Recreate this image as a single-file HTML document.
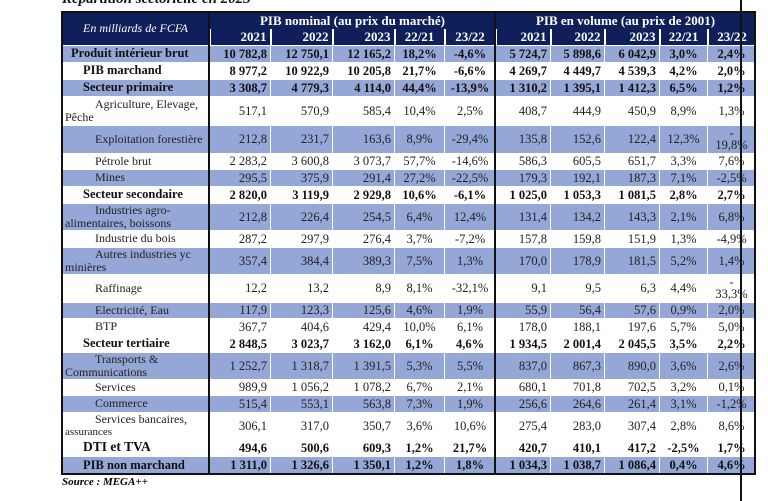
<!DOCTYPE html>
<html><head><meta charset="utf-8">
<style>
body{margin:0;width:768px;height:501px;background:#fff;position:relative;overflow:hidden;font-family:"Liberation Serif",serif;}
.title{position:absolute;left:62px;top:-9px;font-size:15px;font-style:italic;font-weight:bold;color:#111;}
table{position:absolute;left:62px;top:12px;width:693px;border-collapse:collapse;table-layout:fixed;font-size:12.5px;color:#222;}
td{padding:0 3px;border:1px solid #fff;text-align:right;white-space:nowrap;line-height:12px;overflow:hidden;}
td.l{text-align:left;white-space:normal;line-height:12.5px;font-size:12px;}
td.p{text-align:center;}
tr.b td{background:#94a7d7;}
tr.h td{background:#0f1f5a;color:#fff;font-weight:bold;border:none;font-size:13px;}
tr.h2 td{border-left:2px solid #fff;}
.bo td{font-weight:bold;color:#111;}
.bo td.l{font-size:12.5px;}
.i1{padding-left:8px;}
.i2{padding-left:20px;}
.w{text-indent:30px;padding-left:2px;}
.nw{white-space:nowrap !important;}
.ln{position:absolute;background:#111;}
.src{position:absolute;left:62px;top:476px;font-size:11px;font-style:italic;font-weight:bold;}
</style></head><body>
<div class="title">Répartition sectorielle en 2023</div>
<table>
<colgroup><col style="width:147px"><col style="width:61px"><col style="width:62px"><col style="width:62px"><col style="width:50px"><col style="width:51px"><col style="width:55px"><col style="width:54px"><col style="width:55px"><col style="width:48px"><col style="width:48px"></colgroup>
<tr class="h" style="height:17px"><td rowspan="2" style="text-align:center;font-style:italic;font-weight:normal;font-size:12px">En milliards de FCFA</td><td colspan="5" style="text-align:center">PIB nominal (au prix du marché)</td><td colspan="5" style="text-align:center">PIB en volume (au prix de 2001)</td></tr>
<tr class="h h2" style="height:16px"><td>2021</td><td>2022</td><td>2023</td><td class="p">22/21</td><td class="p">23/22</td><td>2021</td><td>2022</td><td>2023</td><td class="p">22/21</td><td class="p">23/22</td></tr>
<tr class="b bo" style="height:17px"><td class="l i1">Produit intérieur brut</td><td>10 782,8</td><td>12 750,1</td><td>12 165,2</td><td class="p">18,2%</td><td class="p">-4,6%</td><td>5 724,7</td><td>5 898,6</td><td>6 042,9</td><td class="p">3,0%</td><td class="p">2,4%</td></tr>
<tr class="bo" style="height:17px"><td class="l i2">PIB marchand</td><td>8 977,2</td><td>10 922,9</td><td>10 205,8</td><td class="p">21,7%</td><td class="p">-6,6%</td><td>4 269,7</td><td>4 449,7</td><td>4 539,3</td><td class="p">4,2%</td><td class="p">2,0%</td></tr>
<tr class="b bo" style="height:17px"><td class="l i2">Secteur primaire</td><td>3 308,7</td><td>4 779,3</td><td>4 114,0</td><td class="p">44,4%</td><td class="p">-13,9%</td><td>1 310,2</td><td>1 395,1</td><td>1 412,3</td><td class="p">6,5%</td><td class="p">1,2%</td></tr>
<tr style="height:29px"><td class="l w">Agriculture, Elevage, Pêche</td><td>517,1</td><td>570,9</td><td>585,4</td><td class="p">10,4%</td><td class="p">2,5%</td><td>408,7</td><td>444,9</td><td>450,9</td><td class="p">8,9%</td><td class="p">1,3%</td></tr>
<tr class="b" style="height:28px"><td class="l w nw">Exploitation forestière</td><td>212,8</td><td>231,7</td><td>163,6</td><td class="p">8,9%</td><td class="p">-29,4%</td><td>135,8</td><td>152,6</td><td>122,4</td><td class="p">12,3%</td><td class="p" style="white-space:normal">-<br>19,8%</td></tr>
<tr style="height:16px"><td class="l w">Pétrole brut</td><td>2 283,2</td><td>3 600,8</td><td>3 073,7</td><td class="p">57,7%</td><td class="p">-14,6%</td><td>586,3</td><td>605,5</td><td>651,7</td><td class="p">3,3%</td><td class="p">7,6%</td></tr>
<tr class="b" style="height:17px"><td class="l w">Mines</td><td>295,5</td><td>375,9</td><td>291,4</td><td class="p">27,2%</td><td class="p">-22,5%</td><td>179,3</td><td>192,1</td><td>187,3</td><td class="p">7,1%</td><td class="p">-2,5%</td></tr>
<tr class="bo" style="height:17px"><td class="l i2">Secteur secondaire</td><td>2 820,0</td><td>3 119,9</td><td>2 929,8</td><td class="p">10,6%</td><td class="p">-6,1%</td><td>1 025,0</td><td>1 053,3</td><td>1 081,5</td><td class="p">2,8%</td><td class="p">2,7%</td></tr>
<tr class="b" style="height:27px"><td class="l w">Industries agro-alimentaires, boissons</td><td>212,8</td><td>226,4</td><td>254,5</td><td class="p">6,4%</td><td class="p">12,4%</td><td>131,4</td><td>134,2</td><td>143,3</td><td class="p">2,1%</td><td class="p">6,8%</td></tr>
<tr style="height:17px"><td class="l w">Industrie du bois</td><td>287,2</td><td>297,9</td><td>276,4</td><td class="p">3,7%</td><td class="p">-7,2%</td><td>157,8</td><td>159,8</td><td>151,9</td><td class="p">1,3%</td><td class="p">-4,9%</td></tr>
<tr class="b" style="height:27px"><td class="l w">Autres industries yc minières</td><td>357,4</td><td>384,4</td><td>389,3</td><td class="p">7,5%</td><td class="p">1,3%</td><td>170,0</td><td>178,9</td><td>181,5</td><td class="p">5,2%</td><td class="p">1,4%</td></tr>
<tr style="height:28px"><td class="l w">Raffinage</td><td>12,2</td><td>13,2</td><td>8,9</td><td class="p">8,1%</td><td class="p">-32,1%</td><td>9,1</td><td>9,5</td><td>6,3</td><td class="p">4,4%</td><td class="p" style="white-space:normal">-<br>33,3%</td></tr>
<tr class="b" style="height:16px"><td class="l w">Electricité, Eau</td><td>117,9</td><td>123,3</td><td>125,6</td><td class="p">4,6%</td><td class="p">1,9%</td><td>55,9</td><td>56,4</td><td>57,6</td><td class="p">0,9%</td><td class="p">2,0%</td></tr>
<tr style="height:17px"><td class="l w">BTP</td><td>367,7</td><td>404,6</td><td>429,4</td><td class="p">10,0%</td><td class="p">6,1%</td><td>178,0</td><td>188,1</td><td>197,6</td><td class="p">5,7%</td><td class="p">5,0%</td></tr>
<tr class="bo" style="height:17px"><td class="l i2">Secteur tertiaire</td><td>2 848,5</td><td>3 023,7</td><td>3 162,0</td><td class="p">6,1%</td><td class="p">4,6%</td><td>1 934,5</td><td>2 001,4</td><td>2 045,5</td><td class="p">3,5%</td><td class="p">2,2%</td></tr>
<tr class="b" style="height:27px"><td class="l w">Transports &amp; Communications</td><td>1 252,7</td><td>1 318,7</td><td>1 391,5</td><td class="p">5,3%</td><td class="p">5,5%</td><td>837,0</td><td>867,3</td><td>890,0</td><td class="p">3,6%</td><td class="p">2,6%</td></tr>
<tr style="height:16px"><td class="l w">Services</td><td>989,9</td><td>1 056,2</td><td>1 078,2</td><td class="p">6,7%</td><td class="p">2,1%</td><td>680,1</td><td>701,8</td><td>702,5</td><td class="p">3,2%</td><td class="p">0,1%</td></tr>
<tr class="b" style="height:17px"><td class="l w">Commerce</td><td>515,4</td><td>553,1</td><td>563,8</td><td class="p">7,3%</td><td class="p">1,9%</td><td>256,6</td><td>264,6</td><td>261,4</td><td class="p">3,1%</td><td class="p">-1,2%</td></tr>
<tr style="height:27px"><td class="l w">Services bancaires, <span style="font-size:11px">assurances</span></td><td>306,1</td><td>317,0</td><td>350,7</td><td class="p">3,6%</td><td class="p">10,6%</td><td>275,4</td><td>283,0</td><td>307,4</td><td class="p">2,8%</td><td class="p">8,6%</td></tr>
<tr class="bo" style="height:17px"><td class="l i2" style="font-size:13.5px">DTI et TVA</td><td>494,6</td><td>500,6</td><td>609,3</td><td class="p">1,2%</td><td class="p">21,7%</td><td>420,7</td><td>410,1</td><td>417,2</td><td class="p">-2,5%</td><td class="p">1,7%</td></tr>
<tr class="b bo" style="height:18px"><td class="l i2">PIB non marchand</td><td>1 311,0</td><td>1 326,6</td><td>1 350,1</td><td class="p">1,2%</td><td class="p">1,8%</td><td>1 034,3</td><td>1 038,7</td><td>1 086,4</td><td class="p">0,4%</td><td class="p">4,6%</td></tr>
</table>
<div class="ln" style="left:61px;top:11px;width:2px;height:464px"></div>
<div class="ln" style="left:754px;top:11px;width:2px;height:464px"></div>
<div class="ln" style="left:61px;top:11px;width:695px;height:2px"></div>
<div class="ln" style="left:61px;top:473px;width:695px;height:2px"></div>
<div class="ln" style="left:208px;top:11px;width:2px;height:464px"></div>
<div class="ln" style="left:494px;top:11px;width:2px;height:464px"></div>
<div class="ln" style="left:740px;top:0;width:1.5px;height:501px"></div>
<div class="src">Source : MEGA++</div>
</body></html>
